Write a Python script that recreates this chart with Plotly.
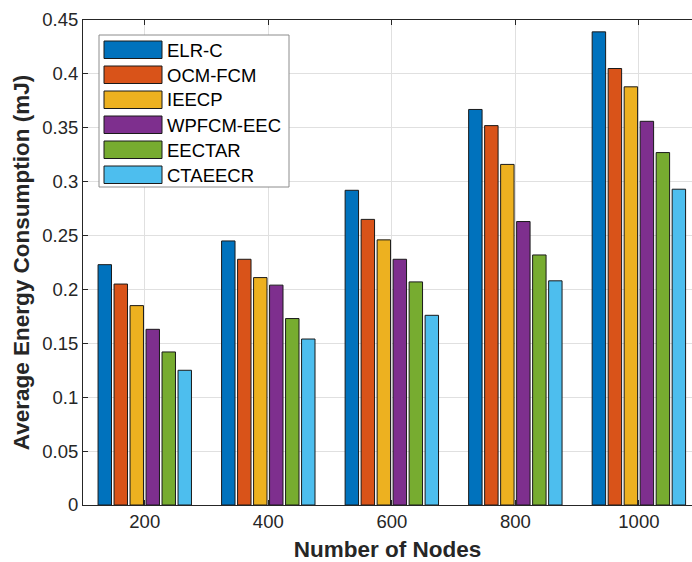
import plotly.graph_objects as go

categories = ["200", "400", "600", "800", "1000"]
series_names = ["ELR-C", "OCM-FCM", "IEECP", "WPFCM-EEC", "EECTAR", "CTAEECR"]
elr_c = [0.223, 0.245, 0.292, 0.367, 0.439]
ocm_fcm = [0.205, 0.228, 0.265, 0.352, 0.405]
ieecp = [0.185, 0.211, 0.246, 0.316, 0.388]
wpfcm_eec = [0.163, 0.204, 0.228, 0.263, 0.356]
eectar = [0.142, 0.173, 0.207, 0.232, 0.327]
ctaeecr = [0.125, 0.154, 0.176, 0.208, 0.293]
colors = ["#0072BD", "#D95319", "#EDB120", "#7E2F8E", "#77AC30", "#4DBEEE"]
y_ticks = [0, 0.05, 0.1, 0.15, 0.2, 0.25, 0.3, 0.35, 0.4, 0.45]

series_values = [elr_c, ocm_fcm, ieecp, wpfcm_eec, eectar, ctaeecr]

W, H = 692, 562
ML, MR, MT, MB = 83, 0, 20, 57
FONT = "Liberation Sans, Arial, Helvetica, sans-serif"
TXT = "#262626"

fig = go.Figure()
for name, vals, col in zip(series_names, series_values, colors):
    fig.add_trace(go.Bar(
        x=categories, y=vals, name=name,
        marker=dict(color=col, line=dict(color="#1a1a1a", width=1)),
        showlegend=False,
    ))

# manual MATLAB-style legend (pixel layout converted to paper coords)
pw = W - ML - MR
ph = H - MT - MB
def px(x):
    return (x - ML) / pw
def py(y):
    return (H - MB - y) / ph

shapes = [dict(type="rect", xref="paper", yref="paper",
               x0=px(99), x1=px(289), y0=py(187), y1=py(35),
               line=dict(color="#8c8c8c", width=1), fillcolor="white", layer="above")]
annotations = []
for i, (name, col) in enumerate(zip(series_names, colors)):
    top = 41 + 25 * i
    shapes.append(dict(type="rect", xref="paper", yref="paper",
                       x0=px(104), x1=px(162), y0=py(top + 17.5), y1=py(top),
                       line=dict(color="#1a1a1a", width=1), fillcolor=col, layer="above"))
    annotations.append(dict(xref="paper", yref="paper", x=px(165), y=py(top + 9),
                            xanchor="left", yanchor="middle", text=name, showarrow=False,
                            font=dict(family=FONT, size=18.5, color="black")))

fig.update_layout(
    width=W, height=H,
    margin=dict(l=ML, r=MR, t=MT, b=MB, autoexpand=False),
    paper_bgcolor="white", plot_bgcolor="white",
    barmode="group", bargap=0.223, bargroupgap=0.16,
    font=dict(family=FONT, color=TXT),
    shapes=shapes, annotations=annotations,
    showlegend=False,
)
fig.update_xaxes(
    type="category", range=[-0.5, 4.43],
    showline=True, linecolor=TXT, linewidth=1, mirror="ticks",
    ticks="inside", ticklen=5, tickcolor=TXT,
    showgrid=True, gridcolor="#e0e0e0", gridwidth=1,
    tickfont=dict(family=FONT, size=18.5, color=TXT),
    title=dict(text="<b>Number of Nodes</b>", font=dict(family=FONT, size=22.5, color=TXT), standoff=12),
    automargin=False,
)
fig.update_yaxes(
    range=[0, 0.45], tickvals=y_ticks,
    showline=True, linecolor=TXT, linewidth=1, mirror=False,
    ticks="inside", ticklen=5, tickcolor=TXT,
    showgrid=True, gridcolor="#e0e0e0", gridwidth=1, zeroline=False,
    tickfont=dict(family=FONT, size=18.5, color=TXT),
    title=dict(text="<b>Average Energy Consumption (mJ)</b>", font=dict(family=FONT, size=22.5, color=TXT), standoff=6),
    automargin=False,
)

fig.write_html("out.html")
